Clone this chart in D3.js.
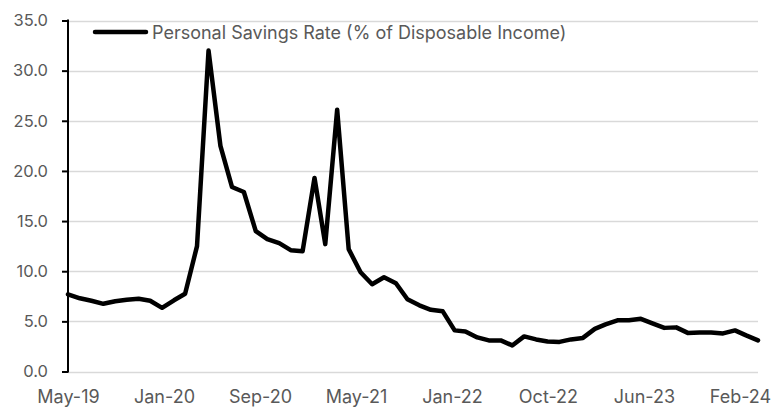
<!DOCTYPE html>
<html>
<head>
<meta charset="utf-8">
<script src="https://cdn.jsdelivr.net/npm/d3@7"></script>
<style>
  html, body { margin: 0; padding: 0; background: #fff; }
  svg { display: block; font-family: Inter, "Noto Sans", sans-serif; }
</style>
</head>
<body>
<svg id="chart" width="774" height="409"></svg>
<script>
const months = [
  "2019-05","2019-06","2019-07","2019-08","2019-09","2019-10","2019-11","2019-12",
  "2020-01","2020-02","2020-03","2020-04","2020-05","2020-06","2020-07","2020-08",
  "2020-09","2020-10","2020-11","2020-12","2021-01","2021-02","2021-03","2021-04",
  "2021-05","2021-06","2021-07","2021-08","2021-09","2021-10","2021-11","2021-12",
  "2022-01","2022-02","2022-03","2022-04","2022-05","2022-06","2022-07","2022-08",
  "2022-09","2022-10","2022-11","2022-12","2023-01","2023-02","2023-03","2023-04",
  "2023-05","2023-06","2023-07","2023-08","2023-09","2023-10","2023-11","2023-12",
  "2024-01","2024-02","2024-03","2024-04"
];
const savingsRate = [
  7.7, 7.3, 7.05, 6.75, 7.0, 7.15, 7.25, 7.05,
  6.35, 7.1, 7.75, 12.5, 32.0, 22.5, 18.4, 17.9,
  14.0, 13.2, 12.8, 12.1, 12.0, 19.3, 12.7, 26.1,
  12.2, 9.9, 8.7, 9.4, 8.8, 7.2, 6.6, 6.15,
  6.0, 4.1, 4.0, 3.4, 3.1, 3.1, 2.6, 3.5,
  3.2, 3.0, 2.95, 3.2, 3.35, 4.25, 4.7, 5.1,
  5.1, 5.25, 4.8, 4.35, 4.4, 3.85, 3.9, 3.9,
  3.8, 4.1, 3.6, 3.1
];
const seriesName = "Personal Savings Rate (% of Disposable Income)";
const xTickLabels = ["May-19","Jan-20","Sep-20","May-21","Jan-22","Oct-22","Jun-23","Feb-24"];
const xTickStepDays = 250;
const yTicks = [0, 5, 10, 15, 20, 25, 30, 35];

const parse = d3.timeParse("%Y-%m");
const data = months.map((m, i) => ({ date: parse(m), value: savingsRate[i] }));

const svg = d3.select("#chart");
const mLeft = 68, mRight = 758, mTop = 20.5, mBottom = 371.5;

const x = d3.scaleTime()
  .domain(d3.extent(data, d => d.date))
  .range([mLeft, mRight]);
const y = d3.scaleLinear().domain([0, 35]).range([mBottom, mTop]);

const textColor = "#595959";
const fontFam = "Inter, 'Noto Sans', sans-serif";

// gridlines
svg.append("g").selectAll("line").data(yTicks).join("line")
  .attr("x1", mLeft).attr("x2", mRight)
  .attr("y1", d => Math.round(y(d)) + 0.5).attr("y2", d => Math.round(y(d)) + 0.5)
  .attr("stroke", "#d9d9d9").attr("stroke-width", 1.5);

// y axis
const yAxis = d3.axisLeft(y).tickValues(yTicks).tickFormat(d3.format(".1f")).tickSize(6).tickPadding(14);
const gy = svg.append("g").attr("transform", `translate(${mLeft},0)`).call(yAxis);
gy.select(".domain").attr("stroke", "#000").attr("stroke-width", 2).attr("d", `M0,${mTop - 1}V${mBottom + 1}`);
gy.selectAll(".tick line").attr("stroke", "#000").attr("stroke-width", 2);
gy.selectAll(".tick text").attr("fill", textColor).style("font-size", "16.5px").style("font-family", fontFam);

// x axis
const start = x.domain()[0];
const tickDates = xTickLabels.map((_, k) => d3.timeDay.offset(start, xTickStepDays * k));
const xAxis = d3.axisBottom(x).tickValues(tickDates)
  .tickFormat((d, i) => xTickLabels[i]).tickSize(0).tickPadding(19);
const gx = svg.append("g").attr("transform", `translate(0,${mBottom})`).call(xAxis);
gx.select(".domain").remove();
gx.selectAll(".tick text").attr("fill", textColor).style("font-size", "18px").style("font-family", fontFam);

// line
const line = d3.line().x(d => x(d.date)).y(d => y(d.value));
svg.append("path").datum(data)
  .attr("d", line)
  .attr("fill", "none").attr("stroke", "#000").attr("stroke-width", 4.5)
  .attr("stroke-linejoin", "round").attr("stroke-linecap", "round");

// legend
const lg = svg.append("g");
lg.append("line").attr("x1", 95).attr("x2", 146).attr("y1", 32).attr("y2", 32)
  .attr("stroke", "#000").attr("stroke-width", 4.5).attr("stroke-linecap", "round");
lg.append("text").attr("x", 152).attr("y", 38.5).text(seriesName)
  .attr("fill", textColor).style("font-size", "18px").style("font-family", fontFam);
</script>
</body>
</html>
